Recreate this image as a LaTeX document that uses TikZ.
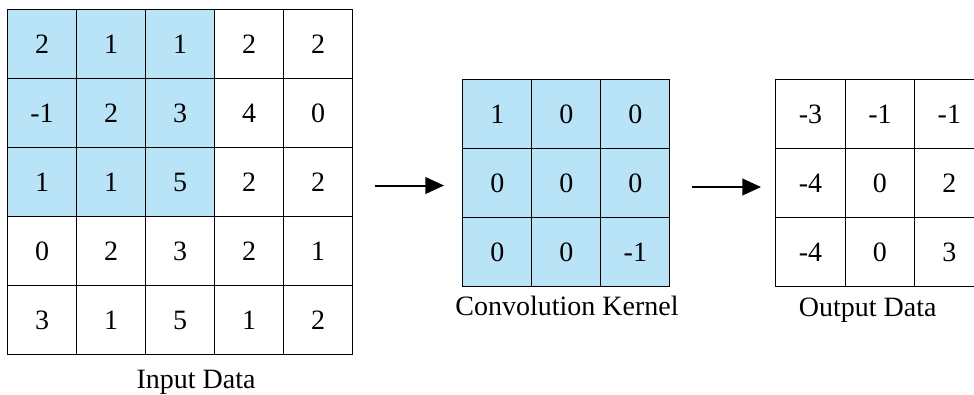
\documentclass[tikz,border=0pt]{standalone}
\usepackage{fontspec}
\setmainfont{Liberation Serif}
\usetikzlibrary{arrows.meta}
\definecolor{kblue}{RGB}{185,228,248}
\begin{document}
\begin{tikzpicture}[x=0.75pt,y=-0.75pt,
  cellbox/.style={draw=black, line width=0.8pt, minimum width=51.75pt, minimum height=51.75pt,
    inner sep=0pt, anchor=north west, font=\fontsize{21}{25}\selectfont},
  lbl/.style={anchor=base, inner sep=0pt, font=\fontsize{21}{25}\selectfont},
  conn/.style={line width=1.5pt, -{Triangle[length=14pt,width=12.5pt]}}]
\useasboundingbox[fill=white] (0,0) rectangle (974,394);
% Input data grid
\foreach \v [count=\i from 0] in {2,1,1,2,2,-1,2,3,4,0,1,1,5,2,2,0,2,3,2,1,3,1,5,1,2}{
  \pgfmathtruncatemacro\r{int(\i/5)}
  \pgfmathtruncatemacro\c{mod(\i,5)}
  \pgfmathtruncatemacro\h{and(\r<3,\c<3)}
  \ifnum\h=1 \def\cf{kblue}\else\def\cf{white}\fi
  \node[cellbox, fill=\cf] (in-\r-\c) at ({7+69*\c},{9.3+69*\r}) {\v};
}
% Kernel grid
\foreach \v [count=\i from 0] in {1,0,0,0,0,0,0,0,-1}{
  \pgfmathtruncatemacro\r{int(\i/3)}
  \pgfmathtruncatemacro\c{mod(\i,3)}
  \node[cellbox, fill=kblue] (k-\r-\c) at ({462.3+69*\c},{79.3+69*\r}) {\v};
}
% Output grid
\foreach \v [count=\i from 0] in {-3,-1,-1,-4,0,2,-4,0,3}{
  \pgfmathtruncatemacro\r{int(\i/3)}
  \pgfmathtruncatemacro\c{mod(\i,3)}
  \node[cellbox, fill=white, minimum width=52.05pt] (o-\r-\c) at ({775.3+69.4*\c},{79.3+69*\r}) {\v};
}
% Labels
\node[lbl] (inlbl) at (196,388.3) {Input Data};
\node[lbl] (klbl) at (567,315.7) {Convolution Kernel};
\node[lbl] (olbl) at (867.7,316) {Output Data};
% Arrows
\coordinate (a1s) at (375,185.5);
\coordinate (a1e) at (444,185.5);
\coordinate (a2s) at (691.7,187);
\coordinate (a2e) at (761,187);
\draw[conn] (a1s) -- (a1e);
\draw[conn] (a2s) -- (a2e);
\end{tikzpicture}
\end{document}
